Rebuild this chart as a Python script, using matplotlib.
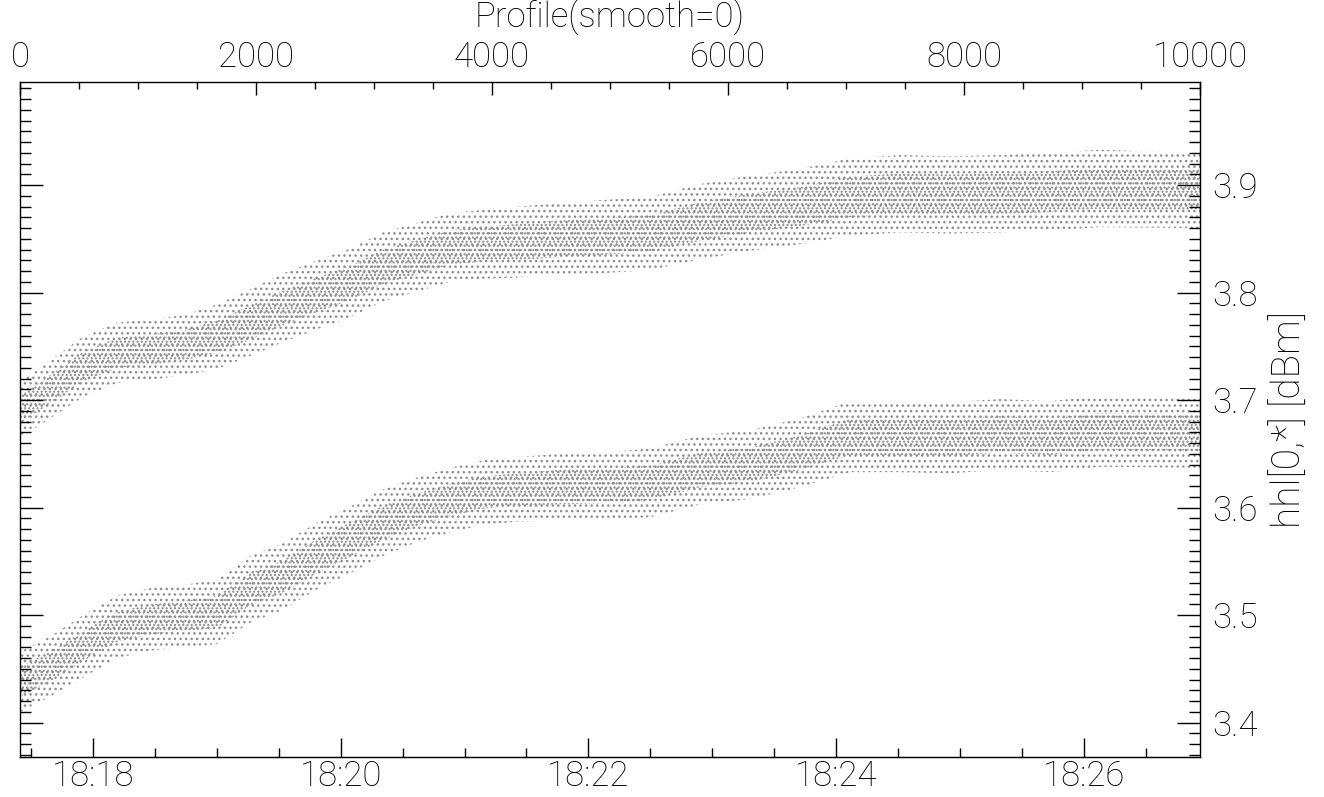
import matplotlib
matplotlib.use('Agg')
import matplotlib.pyplot as plt
from matplotlib.ticker import MultipleLocator, FixedLocator
import numpy as np

profile = [0, 254, 534, 822, 1100, 1383, 1670, 1950, 2230, 2517, 2797, 3076, 3364, 3644,
           3924, 4212, 4560, 4915, 5339, 5763, 6186, 6610, 7034, 7458, 7881, 8305, 8729,
           9153, 10000]

# centre of each cloud [dBm]
upper_mid = [3.691, 3.710, 3.731, 3.744, 3.747, 3.751, 3.759, 3.772, 3.786, 3.798, 3.809,
             3.824, 3.833, 3.842, 3.845, 3.847, 3.850, 3.852, 3.855, 3.866, 3.874, 3.880,
             3.889, 3.892, 3.891, 3.892, 3.894, 3.897, 3.895]
lower_mid = [3.438, 3.452, 3.471, 3.489, 3.496, 3.499, 3.503, 3.524, 3.536, 3.555, 3.570,
             3.586, 3.598, 3.607, 3.614, 3.617, 3.619, 3.620, 3.623, 3.635, 3.640, 3.651,
             3.666, 3.666, 3.665, 3.668, 3.666, 3.671, 3.670]

# half width of the dense core and of the whole cloud
upper_core = [0.013, 0.013, 0.014, 0.014, 0.014, 0.014, 0.015, 0.016, 0.016, 0.016, 0.016,
              0.016, 0.016, 0.016, 0.016, 0.017, 0.017, 0.017, 0.017, 0.018, 0.018, 0.018,
              0.019, 0.019, 0.019, 0.019, 0.019, 0.019, 0.019]
upper_outer = [0.026, 0.027, 0.028, 0.028, 0.028, 0.028, 0.030, 0.031, 0.032, 0.032, 0.032,
               0.032, 0.032, 0.032, 0.032, 0.033, 0.033, 0.034, 0.034, 0.035, 0.035, 0.035,
               0.036, 0.036, 0.036, 0.036, 0.036, 0.036, 0.035]
lower_core = [0.014, 0.014, 0.014, 0.014, 0.014, 0.014, 0.015, 0.015, 0.015, 0.016, 0.016,
              0.016, 0.015, 0.015, 0.015, 0.015, 0.016, 0.016, 0.016, 0.016, 0.016, 0.016,
              0.017, 0.017, 0.017, 0.017, 0.017, 0.017, 0.017]
lower_outer = [0.028, 0.028, 0.029, 0.029, 0.029, 0.029, 0.030, 0.031, 0.031, 0.031, 0.031,
               0.031, 0.030, 0.030, 0.030, 0.030, 0.031, 0.031, 0.032, 0.032, 0.032, 0.032,
               0.033, 0.033, 0.033, 0.033, 0.033, 0.033, 0.033]

time_ticks = [18, 20, 22, 24, 26]          # minutes after 18:00
time_labels = ['18:18', '18:20', '18:22', '18:24', '18:26']
t_start, t_end = 17.412, 26.936            # minutes after 18:00 at profile 0 / 10000

dot_grey = '#8c8c8c'
plt.rcParams['font.family'] = ['Roboto', 'DejaVu Sans']
plt.rcParams['font.weight'] = 'light'
plt.rcParams['axes.labelweight'] = 'light'
plt.rcParams['font.size'] = 25
plt.rcParams['hatch.linewidth'] = 1.0

fig = plt.figure(figsize=(13.24, 7.97), dpi=100)
ax = fig.add_axes([20 / 1324, 1 - 757 / 797, 1180 / 1324, 675 / 797])

p = np.array(profile)
for mid, core, outer in [(upper_mid, upper_core, upper_outer),
                         (lower_mid, lower_core, lower_outer)]:
    mid, core, outer = np.array(mid), np.array(core), np.array(outer)
    ax.fill_between(p, mid - outer, mid + outer, facecolor='none', edgecolor=dot_grey,
                    linewidth=0, hatch='...')
    ax.fill_between(p, mid - core, mid + core, facecolor='none', edgecolor=dot_grey,
                    linewidth=0, hatch='....')

ax.set_xlim(0, 10000)
ax.set_ylim(3.368, 3.996)

# top axis: profile number
ax.xaxis.tick_top()
ax.xaxis.set_major_locator(MultipleLocator(2000))
ax.xaxis.set_minor_locator(MultipleLocator(500))
ax.tick_params(axis='x', which='major', direction='in', length=9.5, width=1, pad=6)
ax.tick_params(axis='x', which='minor', direction='in', length=5, width=1)

# right axis: power
ax.yaxis.tick_right()
ax.yaxis.set_ticks_position('both')
ax.yaxis.set_major_locator(MultipleLocator(0.1))
ax.yaxis.set_minor_locator(MultipleLocator(0.01))
ax.yaxis.set_major_formatter(plt.FuncFormatter(lambda v, _: f'{v:.1f}'))
ax.tick_params(axis='y', which='major', direction='in', length=16.5, width=1, pad=9,
               labelleft=False, labelright=True)
ax.tick_params(axis='y', which='minor', direction='in', length=8, width=1)
ax.yaxis.set_label_position('right')
ax.set_ylabel('hhl[0,*] [dBm]', fontsize=28, labelpad=9)

# bottom axis: clock time
scale = (t_end - t_start) / 10000
sec = ax.secondary_xaxis('bottom', functions=(lambda x: t_start + x * scale,
                                              lambda t: (t - t_start) / scale))
sec.xaxis.set_major_locator(FixedLocator(time_ticks))
sec.xaxis.set_minor_locator(MultipleLocator(0.5))
sec.set_xticklabels(time_labels)
sec.tick_params(which='major', direction='in', length=13.5, width=1, pad=2)
sec.tick_params(which='minor', direction='in', length=6.5, width=1)

for s in ax.spines.values():
    s.set_linewidth(1.0)

fig.text(610 / 1324, 1 - 18 / 797, 'Profile(smooth=0)', ha='center', va='center')

fig.savefig('out.png', dpi=100)
